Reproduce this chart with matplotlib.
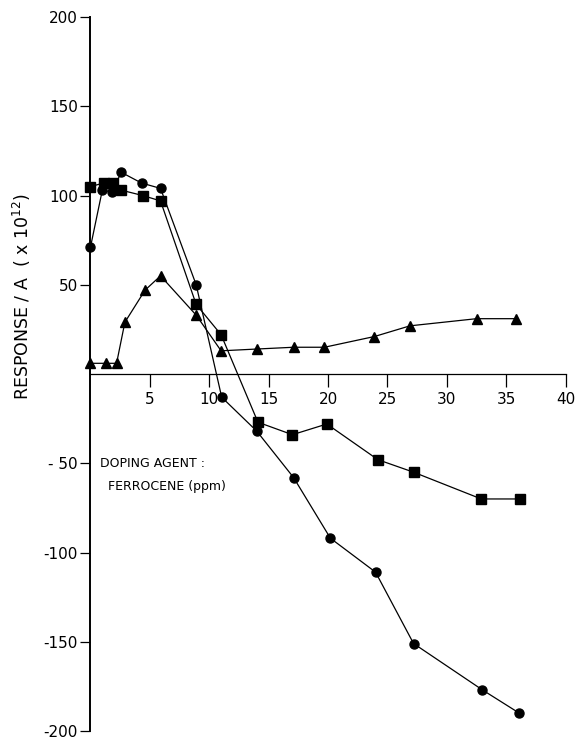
import numpy as np
import matplotlib
matplotlib.use("Agg")
import matplotlib.pyplot as plt

# concentrations (ppm) and responses (x 1e12 A)
circ_x = [0, 1.0, 1.8, 2.6, 4.3, 5.9, 8.9, 11.05, 14.0, 17.1, 20.2, 24.0, 27.2, 33.0, 36.1]
circ_y = [71, 103, 102, 113, 107, 104, 50, -13, -32, -58, -92, -111, -151, -177, -190]

sq_x = [0, 1.1, 1.9, 2.6, 4.4, 5.9, 8.9, 11.0, 14.1, 17.0, 19.9, 24.2, 27.2, 32.9, 36.2]
sq_y = [105, 107, 107, 103, 100, 97, 39, 22, -27, -34, -28, -48, -55, -70, -70]

tri_x = [0, 1.3, 2.2, 2.9, 4.6, 5.9, 8.9, 11.0, 14.0, 17.1, 19.7, 23.9, 26.9, 32.5, 35.8]
tri_y = [6, 6, 6, 29, 47, 55, 33, 13, 14, 15, 15, 21, 27, 31, 31]

x_ticks = [5, 10, 15, 20, 25, 30, 35, 40]
y_ticks = [-200, -150, -100, -50, 50, 100, 150, 200]
y_labels = ["-200", "-150", "-100", "- 50", "50", "100", "150", "200"]

plt.rcParams['font.family'] = ['DejaVu Sans']

fig = plt.figure(figsize=(5.76, 7.41), dpi=100)
ax = fig.add_axes([0.157, 0.0135, 0.825, 0.9635])

style = dict(color='black', lw=0.9, clip_on=False)
ax.plot(circ_x, circ_y, marker='o', ms=6.5, **style)
ax.plot(sq_x, sq_y, marker='s', ms=6.5, **style)
ax.plot(tri_x, tri_y, marker='^', ms=7, **style)

ax.set_xlim(0, 40)
ax.set_ylim(-200, 200)

for s in ['top', 'right']:
    ax.spines[s].set_visible(False)
ax.spines['bottom'].set_position(('data', 0))
ax.spines['bottom'].set_bounds(0, 40)
ax.spines['left'].set_bounds(-200, 200)
ax.spines['left'].set_linewidth(1.4)
ax.spines['bottom'].set_linewidth(0.9)

ax.set_xticks(x_ticks)
ax.set_xticklabels([str(t) for t in x_ticks], fontsize=11)
ax.set_yticks(y_ticks)
ax.set_yticklabels(y_labels, fontsize=11)
ax.tick_params(axis='x', direction='out', length=9, width=0.9, pad=4)
ax.tick_params(axis='y', direction='out', length=7, width=0.9, pad=2)

fig.text(0.038, 0.60, r"RESPONSE / A  ( x 10$^{12}$)", rotation=90,
         fontsize=12.5, ha='center', va='center')

ax.text(0.8, -50, "DOPING AGENT :", fontsize=9, va='center')
ax.text(1.5, -63, "FERROCENE (ppm)", fontsize=9, va='center')

fig.savefig("out.png", dpi=100)
